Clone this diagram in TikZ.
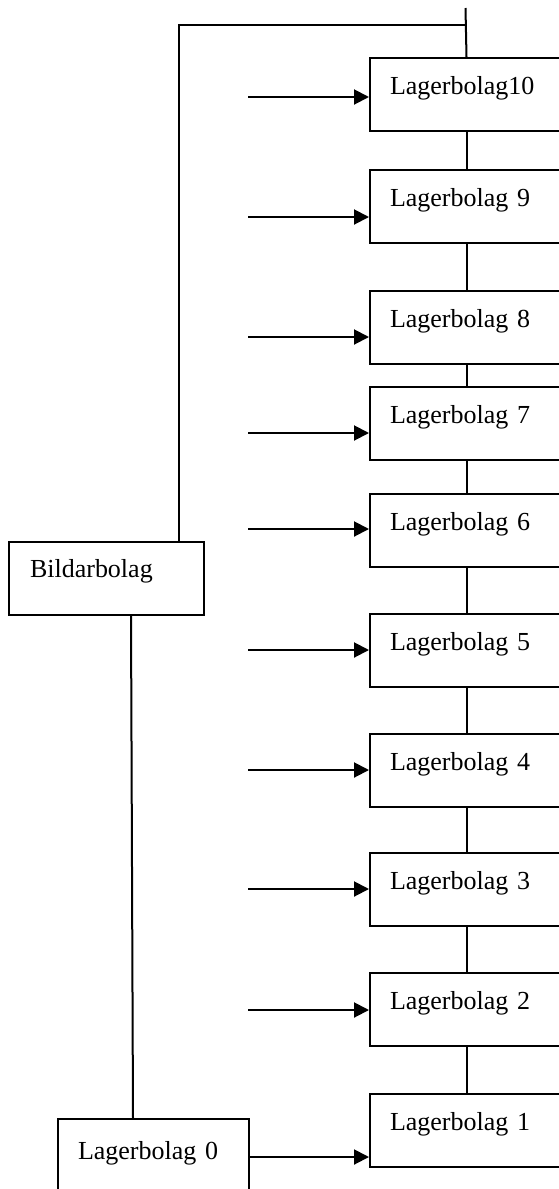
\documentclass[tikz,border=0pt]{standalone}
\usepackage{fontspec}
\setmainfont{Liberation Serif}
\usepackage{tikz}
\usetikzlibrary{arrows.meta,positioning,calc}

\begin{document}
\begin{tikzpicture}[
  x=1pt, y=-1pt,
  bolag/.style={draw, line width=2pt, anchor=north west, align=left, inner ysep=0pt,
                inner xsep=20pt, text width=153pt, text height=36pt, text depth=37pt,
                font=\fontsize{26}{30}\selectfont},
  ln/.style={line width=2pt},
  arr/.style={-{Triangle[length=15pt,width=15pt]}, line width=2pt}
]
\useasboundingbox (0,0) rectangle (559,1189);
\clip (0,0) rectangle (559,1189);

% ── Lagerbolag column ─────────────────────────────────────────
\node[bolag] (l10) at (369,57) {Lagerbolag10};
\node[bolag] (l9) at (369,169) {Lagerbolag 9};
\node[bolag] (l8) at (369,290) {Lagerbolag 8};
\node[bolag] (l7) at (369,386) {Lagerbolag 7};
\node[bolag] (l6) at (369,493) {Lagerbolag 6};
\node[bolag] (l5) at (369,613) {Lagerbolag 5};
\node[bolag] (l4) at (369,733) {Lagerbolag 4};
\node[bolag] (l3) at (369,852) {Lagerbolag 3};
\node[bolag] (l2) at (369,972) {Lagerbolag 2};
\node[bolag] (l1) at (369,1093) {Lagerbolag 1};

% ── Bildarbolag and Lagerbolag 0 ──────────────────────────────
\node[bolag, text width=153pt, inner xsep=21pt, text height=35pt, text depth=38pt] (bild) at (8,541) {Bildarbolag};
\node[bolag, text width=151pt, text height=40pt, text depth=60pt] (l0) at (57,1118) {Lagerbolag 0};

% ── Free ends ─────────────────────────────────────────────────
\coordinate (top) at (465.5,8);
\coordinate (jn) at (465.5,25);
\coordinate (s10) at (248,97);
\coordinate (s9) at (248,217);
\coordinate (s8) at (248,337);
\coordinate (s7) at (248,433);
\coordinate (s6) at (248,529);
\coordinate (s5) at (248,650);
\coordinate (s4) at (248,770);
\coordinate (s3) at (248,889);
\coordinate (s2) at (248,1010);

% ── Chain ─────────────────────────────────────────────────────
\draw[ln] (top) -- (l10.north);
\draw[ln] (l10) -- (l9);
\draw[ln] (l9) -- (l8);
\draw[ln] (l8) -- (l7);
\draw[ln] (l7) -- (l6);
\draw[ln] (l6) -- (l5);
\draw[ln] (l5) -- (l4);
\draw[ln] (l4) -- (l3);
\draw[ln] (l3) -- (l2);
\draw[ln] (l2) -- (l1);
\draw[ln] (jn) -| ([xshift=72.5pt]bild.north);
\draw[ln] ([xshift=24.5pt]bild.south) -- ([xshift=-20.5pt]l0.north);

% ── Arrows ────────────────────────────────────────────────────
\draw[arr] (s10) -- (s10 -| l10.west);
\draw[arr] (s9) -- (s9 -| l9.west);
\draw[arr] (s8) -- (s8 -| l8.west);
\draw[arr] (s7) -- (s7 -| l7.west);
\draw[arr] (s6) -- (s6 -| l6.west);
\draw[arr] (s5) -- (s5 -| l5.west);
\draw[arr] (s4) -- (s4 -| l4.west);
\draw[arr] (s3) -- (s3 -| l3.west);
\draw[arr] (s2) -- (s2 -| l2.west);
\draw[arr] ([yshift=-39pt]l0.north east) -- ([yshift=-39pt]l0.north east -| l1.west);
\end{tikzpicture}
\end{document}
